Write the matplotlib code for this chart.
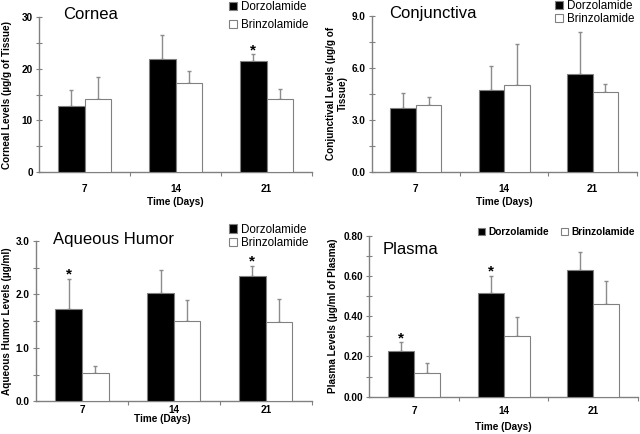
import numpy as np
import matplotlib
matplotlib.use("Agg")
import matplotlib.pyplot as plt

plt.rcParams["font.family"] = ["Liberation Sans", "DejaVu Sans"]

# ---------- data ----------
days = ["7", "14", "21"]
series = ["Dorzolamide", "Brinzolamide"]

cornea_dorz = [12.7, 21.9, 21.5]
cornea_dorz_err = [3.1, 4.7, 1.3]
cornea_brinz = [14.1, 17.2, 14.2]
cornea_brinz_err = [4.2, 2.3, 1.8]
cornea_sig = [False, False, True]

conj_dorz = [3.67, 4.72, 5.62]
conj_dorz_err = [0.88, 1.36, 2.46]
conj_brinz = [3.84, 5.01, 4.59]
conj_brinz_err = [0.50, 2.36, 0.46]
conj_sig = [False, False, False]

aq_dorz = [1.72, 2.03, 2.35]
aq_dorz_err = [0.57, 0.43, 0.18]
aq_brinz = [0.53, 1.50, 1.48]
aq_brinz_err = [0.13, 0.39, 0.44]
aq_sig = [True, False, True]

pl_dorz = [0.225, 0.517, 0.628]
pl_dorz_err = [0.045, 0.083, 0.089]
pl_brinz = [0.12, 0.30, 0.46]
pl_brinz_err = [0.047, 0.098, 0.116]
pl_sig = [True, True, False]

GREY = "#808080"
W = 0.29

fig = plt.figure(figsize=(6.4, 4.34), dpi=100)


def panel(rect, dorz, dorz_err, brinz, brinz_err, sig, ymax, yticks, yminor,
          yfmt, ylabel, title, title_xy, ylab_x, xlab_xy, xtick_pad):
    ax = fig.add_axes(rect)
    x = np.arange(len(days))
    bd = ax.bar(x - W / 2, dorz, W, color="black", edgecolor=GREY,
                linewidth=0.8, zorder=3, label=series[0])
    bb = ax.bar(x + W / 2, brinz, W, color="white", edgecolor=GREY,
                linewidth=0.8, zorder=3, label=series[1])
    ax.errorbar(x - W / 2, dorz, yerr=[np.zeros(3), dorz_err], fmt="none",
                ecolor="#8c8c8c", elinewidth=1, capsize=1.5, zorder=2)
    ax.errorbar(x + W / 2, brinz, yerr=[np.zeros(3), brinz_err], fmt="none",
                ecolor="#8c8c8c", elinewidth=1, capsize=1.5, zorder=2)
    for i, s in enumerate(sig):
        if s:
            ax.annotate("*", (x[i] - W / 2, dorz[i] + dorz_err[i]),
                        xytext=(0, -2), textcoords="offset points",
                        ha="center", va="bottom", fontsize=11,
                        fontweight="bold")
    ax.set_xlim(-0.5, 2.5)
    ax.set_ylim(0, ymax)
    ax.set_yticks(yticks, [yfmt.format(v) for v in yticks])
    ax.set_yticks(yminor, minor=True)
    ax.set_xticks(x, days)
    ax.set_xticks([0.5, 1.5, 2.5], minor=True)
    ax.tick_params(axis="x", which="major", length=0, pad=xtick_pad,
                   labelsize=7.2)
    ax.tick_params(axis="x", which="minor", length=3, direction="out",
                   color=GREY, width=0.8)
    ax.tick_params(axis="y", which="both", length=5, direction="inout",
                   color=GREY, width=0.8, labelsize=7.2, pad=2)
    for t in ax.get_xticklabels() + ax.get_yticklabels():
        t.set_fontweight("bold")
    for sp in ["top", "right"]:
        ax.spines[sp].set_visible(False)
    for sp in ["left", "bottom"]:
        ax.spines[sp].set_color(GREY)
        ax.spines[sp].set_linewidth(1)
    ax.set_xlabel("Time (Days)", fontsize=7.2, fontweight="bold", va="center")
    ax.xaxis.set_label_coords(*xlab_xy)
    ax.set_ylabel(ylabel, fontsize=7.2, fontweight="bold", va="center")
    ax.yaxis.set_label_coords(ylab_x, 0.5)
    ax.text(title_xy[0], title_xy[1], title, transform=ax.transAxes,
            fontsize=12, ha="left", va="center")
    return ax, bd, bb


LEG = dict(bbox_transform=fig.transFigure, frameon=False, loc="upper left",
           handlelength=0.7, handleheight=0.7, handletextpad=0.3,
           borderpad=0, borderaxespad=0)

ax1, bd, bb = panel([0.061, 0.6037, 0.4266, 0.357],
                    cornea_dorz, cornea_dorz_err, cornea_brinz, cornea_brinz_err,
                    cornea_sig, 30, [0, 10, 20, 30], [5, 15, 25], "{:.0f}",
                    "Corneal Levels (µg/g of Tissue)", "Cornea", (0.088, 1.019),
                    -0.117, (0.5, -0.194), 8.5)
ax1.legend(handles=[bd, bb], bbox_to_anchor=(0.358, 0.997), fontsize=8.4,
           labelspacing=0.5, **LEG)

ax2, bd, bb = panel([0.5808, 0.6037, 0.414, 0.36],
                    conj_dorz, conj_dorz_err, conj_brinz, conj_brinz_err,
                    conj_sig, 9, [0, 3, 6, 9], [1.5, 4.5, 7.5], "{:.1f}",
                    "Conjunctival Levels (µg/g of\nTissue)", "Conjunctiva",
                    (0.065, 1.017), -0.131, (0.5, -0.19), 8.5)
ax2.legend(handles=[bd, bb], bbox_to_anchor=(0.867, 1.0), fontsize=8.4,
           labelspacing=0.1, **LEG)

ax3, bd, bb = panel([0.05625, 0.0753, 0.4307, 0.3694],
                    aq_dorz, aq_dorz_err, aq_brinz, aq_brinz_err,
                    aq_sig, 3, [0, 1, 2, 3], [0.5, 1.5, 2.5], "{:.1f}",
                    "Aqueous Humor Levels (µg/ml)", "Aqueous Humor",
                    (0.062, 1.012), -0.105, (0.46, -0.108), 2.5)
ax3.legend(handles=[bd, bb], bbox_to_anchor=(0.358, 0.485), fontsize=8.4,
           labelspacing=0.1, **LEG)

ax4, bd, bb = panel([0.577, 0.086, 0.42, 0.371],
                    pl_dorz, pl_dorz_err, pl_brinz, pl_brinz_err,
                    pl_sig, 0.8, [0, 0.2, 0.4, 0.6, 0.8],
                    [0.1, 0.3, 0.5, 0.7], "{:.2f}",
                    "Plasma Levels (µg/ml of Plasma)", "Plasma",
                    (0.051, 0.911), -0.134, (0.5, -0.19), 7)
ax4.legend(handles=[bd, bb], bbox_to_anchor=(0.747, 0.477), ncol=2,
           prop={"size": 7.3, "weight": "bold"}, columnspacing=1.2, **LEG)

fig.savefig("out.png", dpi=100)
